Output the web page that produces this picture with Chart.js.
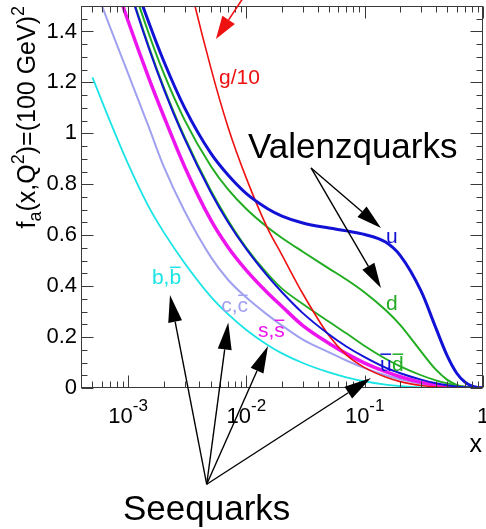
<!DOCTYPE html>
<html><head><meta charset="utf-8">
<script src="https://cdn.jsdelivr.net/npm/chart.js@4"></script>
<style>html,body{margin:0;padding:0;background:#fff;overflow:hidden}canvas{display:block}</style>
</head><body>
<canvas id="c" width="486" height="529"></canvas>
<script>
// ---- data (x, and f_a(x) values per parton) ----
const xValues      = [4e-4, 5e-4, 7e-4, 1e-3, 1.5e-3, 2e-3, 3e-3, 5e-3, 7e-3, 1e-2, 1.5e-2, 2e-2, 3e-2, 5e-2, 7e-2, 0.1, 0.15, 0.2, 0.3, 0.4, 0.5, 0.6, 0.7, 0.8, 0.9, 1];
const gluonOver10  = [4.2, 3.85, 3.35, 2.88, 2.38, 2.07, 1.674, 1.258, 1.024, 0.823, 0.63, 0.522, 0.37, 0.205, 0.13, 0.08, 0.043, 0.025, 0.010, 0.004, 0.0015, 0.0005, 0, 0, 0, 0];
const uQuark       = [2.31, 2.15, 1.91, 1.667, 1.434, 1.284, 1.101, 0.922, 0.836, 0.763, 0.705, 0.675, 0.648, 0.628, 0.617, 0.603, 0.573, 0.52, 0.38, 0.235, 0.125, 0.058, 0.024, 0.008, 0.002, 0];
const dQuark       = [2.268, 2.107, 1.873, 1.635, 1.390, 1.236, 1.053, 0.872, 0.780, 0.703, 0.632, 0.589, 0.535, 0.469, 0.426, 0.375, 0.306, 0.247, 0.143, 0.072, 0.032, 0.0125, 0.0037, 0.001, 0.0002, 0];
const uBarQuark    = [2.228, 2.065, 1.826, 1.583, 1.333, 1.175, 0.979, 0.769, 0.651, 0.545, 0.441, 0.376, 0.294, 0.210, 0.163, 0.121, 0.080, 0.058, 0.033, 0.019, 0.011, 0.006, 0.003, 0.0012, 0.0003, 0];
const dBarQuark    = [2.236, 2.073, 1.834, 1.591, 1.341, 1.183, 0.987, 0.777, 0.659, 0.551, 0.45, 0.39, 0.33, 0.26, 0.215, 0.165, 0.115, 0.085, 0.05, 0.03, 0.018, 0.01, 0.005, 0.002, 0.0005, 0];
const sQuark       = [2.01, 1.865, 1.654, 1.441, 1.216, 1.068, 0.870, 0.660, 0.553, 0.462, 0.375, 0.320, 0.245, 0.175, 0.135, 0.098, 0.064, 0.044, 0.022, 0.011, 0.006, 0.003, 0.0015, 0.0005, 0, 0];
const cQuark       = [1.72, 1.60, 1.42, 1.235, 1.023, 0.870, 0.695, 0.515, 0.425, 0.355, 0.288, 0.245, 0.19, 0.14, 0.108, 0.078, 0.05, 0.034, 0.017, 0.009, 0.005, 0.002, 0.001, 0, 0, 0];
const bQuark       = [null, 1.22, 1.05, 0.88, 0.71, 0.612, 0.491, 0.359, 0.29, 0.228, 0.17, 0.136, 0.098, 0.061, 0.042, 0.026, 0.0135, 0.0076, 0.0024, 0.0008, 0.0002, 0, 0, 0, 0, 0];

const yTickValues  = [0, 0.2, 0.4, 0.6, 0.8, 1, 1.2, 1.4];
const yTickLabels  = ['0', '0.2', '0.4', '0.6', '0.8', '1', '1.2', '1.4'];
const xTickValues  = [1e-3, 1e-2, 1e-1, 1];
const xTickBase    = ['10', '10', '10', '1'];
const xTickExp     = ['-3', '-2', '-1', ''];

// annotation anchors, in data coordinates (x, f)
const valenzOrigin = [0.0352, 0.864];
const valenzTips   = [[0.1373, 0.628], [0.1373, 0.393]];
const seeOrigin    = [4.62e-3, -0.378];
const seeTips      = [[2.26e-3, 0.365], [7.03e-3, 0.257], [0.01523, 0.165], [0.113, 0.039]];
const gluonArrow   = [[9.36e-3, 1.531], [5.53e-3, 1.370]];

const FONT = '"Liberation Sans", Arial, Helvetica, sans-serif';
const COL = {g:'#ee1111', u:'#1212d6', d:'#22ac22', s:'#ee14ee', c:'#a0a0f0', b:'#1ae4e4'};

function series(vals){ return xValues.map((x,i)=>({x:x, y:vals[i]})); }

const datasets = [
  {label:'ubar', data:series(uBarQuark), borderColor:COL.u, borderWidth:2},
  {label:'u',    data:series(uQuark),    borderColor:COL.u, borderWidth:3},
  {label:'g/10', data:series(gluonOver10), borderColor:COL.g, borderWidth:1.6},
  {label:'dbar', data:series(dBarQuark), borderColor:COL.d, borderWidth:1.8},
  {label:'d',    data:series(dQuark),    borderColor:COL.d, borderWidth:2},
  {label:'s',    data:series(sQuark),    borderColor:COL.s, borderWidth:3.5},
  {label:'c',    data:series(cQuark),    borderColor:COL.c, borderWidth:2},
  {label:'b',    data:series(bQuark),    borderColor:COL.b, borderWidth:1.8},
].map(d=>Object.assign(d,{pointRadius:0, fill:false, cubicInterpolationMode:'monotone', spanGaps:false}));

function arrow(ctx, x1, y1, x2, y2, color, lw, hl, hw){
  const ang = Math.atan2(y2-y1, x2-x1);
  const bx = x2 - hl*Math.cos(ang), by = y2 - hl*Math.sin(ang);
  ctx.strokeStyle = color; ctx.lineWidth = lw;
  ctx.beginPath(); ctx.moveTo(x1,y1); ctx.lineTo(bx,by); ctx.stroke();
  ctx.fillStyle = color; ctx.beginPath(); ctx.moveTo(x2,y2);
  ctx.lineTo(bx + hw/2*Math.sin(ang), by - hw/2*Math.cos(ang));
  ctx.lineTo(bx - hw/2*Math.sin(ang), by + hw/2*Math.cos(ang));
  ctx.closePath(); ctx.fill();
}

// parts: [text, overline?]
function label(ctx, x, y, parts, color, size){
  ctx.font = size + 'px ' + FONT; ctx.fillStyle = color; ctx.strokeStyle = color;
  ctx.textAlign = 'left'; ctx.textBaseline = 'alphabetic';
  let cx = x;
  for (const [t, bar] of parts){
    const w = ctx.measureText(t).width;
    ctx.fillText(t, cx, y);
    if (bar){
      ctx.lineWidth = 1.5; ctx.beginPath();
      ctx.moveTo(cx+0.5, y - size*0.8); ctx.lineTo(cx + w - 0.5, y - size*0.8); ctx.stroke();
    }
    cx += w;
  }
}

const decor = {
  id:'decor',
  afterDraw(chart){
    const ctx = chart.ctx, a = chart.chartArea, xs = chart.scales.x, ys = chart.scales.y;
    const P = (p)=>[xs.getPixelForValue(p[0]), ys.getPixelForValue(p[1])];
    ctx.save();
    const L = Math.round(a.left)+0.5, R = Math.round(a.right)-0.5, T = Math.round(a.top)+0.5, B = Math.round(a.bottom)-0.5;
    ctx.strokeStyle = '#3a3a3a'; ctx.lineWidth = 1;
    ctx.strokeRect(L, T, R-L, B-T);
    ctx.beginPath();
    for (let k=0; k<=30; k++){
      const v = k*0.05;
      const y = Math.round(ys.getPixelForValue(v))+0.5;
      const len = (k%4===0) ? 12 : 6;
      ctx.moveTo(L, y); ctx.lineTo(L+len, y);
      ctx.moveTo(R, y); ctx.lineTo(R-len, y);
    }
    for (let e=-4; e<=0; e++){
      for (let m=1; m<=9; m++){
        const v = m*Math.pow(10,e);
        if (v < xs.min*0.999 || v > xs.max*1.001) continue;
        const x = Math.round(xs.getPixelForValue(v))+0.5;
        const len = (m===1) ? 12 : 6;
        ctx.moveTo(x, B); ctx.lineTo(x, B-len);
        ctx.moveTo(x, T); ctx.lineTo(x, T+len);
      }
    }
    ctx.stroke();
    // x tick labels with exponents
    ctx.fillStyle = '#000'; ctx.textBaseline = 'alphabetic'; ctx.textAlign = 'left';
    xTickValues.forEach((v,i)=>{
      const px = xs.getPixelForValue(v);
      ctx.font = '22px ' + FONT; const wb = ctx.measureText(xTickBase[i]).width;
      ctx.font = '17px ' + FONT; const we = ctx.measureText(xTickExp[i]).width;
      const x0 = px - (wb+we)/2;
      ctx.font = '22px ' + FONT; ctx.fillText(xTickBase[i], x0, a.bottom + 35);
      ctx.font = '17px ' + FONT; ctx.fillText(xTickExp[i], x0 + wb, a.bottom + 23);
    });
    // x axis title
    ctx.font = '25px ' + FONT; ctx.textAlign = 'right';
    ctx.fillText('x', a.right - 1, a.bottom + 64);
    // y axis title (rotated), ends at the top of the axis
    const segs = [['f',0],['a',1],['(x,Q',0],['2',2],[')=(100 GeV)',0],['2',2]];
    let tot = 0;
    segs.forEach(([t,k])=>{ ctx.font = (k? '18px ':'25px ') + FONT; tot += ctx.measureText(t).width; });
    ctx.save();
    ctx.translate(35, a.top + tot); ctx.rotate(-Math.PI/2);
    ctx.textAlign = 'left'; let cx = 0;
    segs.forEach(([t,k])=>{
      ctx.font = (k? '18px ':'25px ') + FONT;
      const dy = k===1 ? 6 : (k===2 ? -11 : 0);
      ctx.fillText(t, cx, dy); cx += ctx.measureText(t).width;
    });
    ctx.restore();

    // annotations
    const vo = P(valenzOrigin);
    valenzTips.forEach(t=>{ const p = P(t); arrow(ctx, vo[0], vo[1], p[0], p[1], '#000', 1.4, 25, 14); });
    const so = P(seeOrigin);
    seeTips.forEach(t=>{ const p = P(t); arrow(ctx, so[0], so[1], p[0], p[1], '#000', 1.4, 27, 14); });
    const g0 = P(gluonArrow[0]), g1 = P(gluonArrow[1]);
    arrow(ctx, g0[0], g0[1], g1[0], g1[1], COL.g, 1.6, 23, 15);

    let p;
    p = P([5.87e-3, 1.194]); label(ctx, p[0], p[1], [['g/10',false]], COL.g, 21);
    p = P([0.01032, 0.903]); label(ctx, p[0], p[1], [['Valenzquarks',false]], '#000', 35);
    p = P([0.1514, 0.569]);  label(ctx, p[0], p[1], [['u',false]], COL.u, 21);
    p = P([0.1514, 0.306]);  label(ctx, p[0], p[1], [['d',false]], COL.d, 21);
    p = P([0.1345, 0.0668]); label(ctx, p[0], p[1], [['u',true]], COL.u, 21);
    p = P([0.1702, 0.0668]); label(ctx, p[0], p[1], [['d',true]], COL.d, 21);
    p = P([0.01253, 0.20]);  label(ctx, p[0], p[1], [['s',false],[',',false],['s',true]], COL.s, 21);
    p = P([6.13e-3, 0.298]); label(ctx, p[0], p[1], [['c',false],[',',false],['c',true]], COL.c, 21);
    p = P([1.59e-3, 0.408]); label(ctx, p[0], p[1], [['b',false],[',',false],['b',true]], COL.b, 21);
    p = P([9.06e-4, -0.518]); label(ctx, p[0], p[1], [['Seequarks',false]], '#000', 35);
    ctx.restore();
  }
};

new Chart(document.getElementById('c'), {
  type:'line',
  data:{datasets:datasets},
  options:{
    responsive:false, animation:false, devicePixelRatio:1,
    layout:{padding:{top:6, right:3, left:0, bottom:0}},
    plugins:{legend:{display:false}, tooltip:{enabled:false}},
    scales:{
      x:{type:'logarithmic', min:4e-4, max:1,
         grid:{display:false, drawTicks:false}, border:{display:false},
         ticks:{display:false},
         afterFit:(s)=>{ s.height = 141; s.paddingLeft = 0; s.paddingRight = 0; }},
      y:{type:'linear', min:0, max:1.5,
         grid:{display:false, drawTicks:false}, border:{display:false},
         afterBuildTicks:(s)=>{ s.ticks = yTickValues.map(v=>({value:v})); },
         ticks:{padding:4, color:'#000', font:{family:FONT, size:22},
                callback:(v)=>{ const i = yTickValues.indexOf(v); return i>=0 ? yTickLabels[i] : ''; }},
         afterFit:(s)=>{ s.width = 81; s.paddingTop = 0; s.paddingBottom = 0; }}
    }
  },
  plugins:[decor]
});
</script>
</body></html>
